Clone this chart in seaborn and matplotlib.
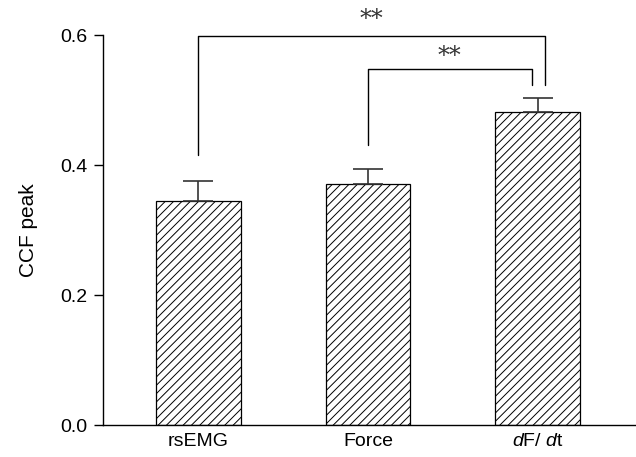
import matplotlib
matplotlib.use("Agg")
import matplotlib.pyplot as plt
import seaborn as sns
import numpy as np
import pandas as pd

categories = ["rsEMG", "Force", "dF/dt"]
tick_labels = ["rsEMG", "Force", "$d$F/ $d$t"]
values = [0.345, 0.371, 0.482]
errors = [0.031, 0.023, 0.021]
y_ticks = [0.0, 0.2, 0.4, 0.6]
sig_labels = ["**", "**"]

sns.set_style("ticks")
plt.rcParams["font.family"] = ["Liberation Sans", "DejaVu Sans"]
plt.rcParams["mathtext.fontset"] = "custom"
plt.rcParams["mathtext.rm"] = "Liberation Sans"
plt.rcParams["mathtext.it"] = "Liberation Sans:italic"
plt.rcParams["hatch.linewidth"] = 0.7
plt.rcParams["hatch.color"] = "black"
for k in ["text.color", "axes.labelcolor", "xtick.color", "ytick.color",
          "xtick.labelcolor", "ytick.labelcolor", "axes.edgecolor"]:
    plt.rcParams[k] = "black"

fig = plt.figure(figsize=(6.36, 4.57), dpi=100)
ax = fig.add_axes([0.162, 0.070, 0.836, 0.853])

df = pd.DataFrame({"cat": categories, "val": values})
sns.barplot(data=df, x="cat", y="val", ax=ax, width=0.5, color="white",
            edgecolor="black", linewidth=0.9, errorbar=None)
for p in ax.patches:
    p.set_facecolor("white")
    p.set_hatch("////")

x = np.arange(len(categories))
ax.errorbar(x, values, yerr=[np.zeros(len(values)), errors], fmt="none",
            ecolor="#333333", elinewidth=1.2, capsize=10.8, capthick=1.2)

ax.set_ylim(0, 0.6)
ax.set_xlim(-0.56, 2.57)
ax.set_yticks(y_ticks)
ax.set_yticklabels([f"{t:.1f}" for t in y_ticks], fontsize=14)
ax.set_xticks(x)
ax.set_xticklabels(tick_labels, fontsize=14)
ax.tick_params(axis="x", length=0, pad=6)
ax.tick_params(axis="y", length=6.5, width=1, direction="out", pad=5)
ax.set_xlabel("")
ax.set_ylabel("CCF peak", fontsize=15, labelpad=16)
for s in ["top", "right"]:
    ax.spines[s].set_visible(False)
for s in ["left", "bottom"]:
    ax.spines[s].set_linewidth(1.0)
    ax.spines[s].set_color("black")

# significance brackets
lw = 1.0
ax.plot([0, 0, 2.04, 2.04], [0.415, 0.598, 0.598, 0.523], color="black", lw=lw, clip_on=False)
ax.plot([1.0, 1.0, 1.965, 1.965], [0.431, 0.548, 0.548, 0.523], color="black", lw=lw, clip_on=False)
ax.text(1.02, 0.624, sig_labels[0], ha="center", va="center", fontsize=17,
        family=["DejaVu Serif"], color="#333333", clip_on=False)
ax.text(1.48, 0.567, sig_labels[1], ha="center", va="center", fontsize=17,
        family=["DejaVu Serif"], color="#333333", clip_on=False)

fig.savefig("out.png", dpi=100)
